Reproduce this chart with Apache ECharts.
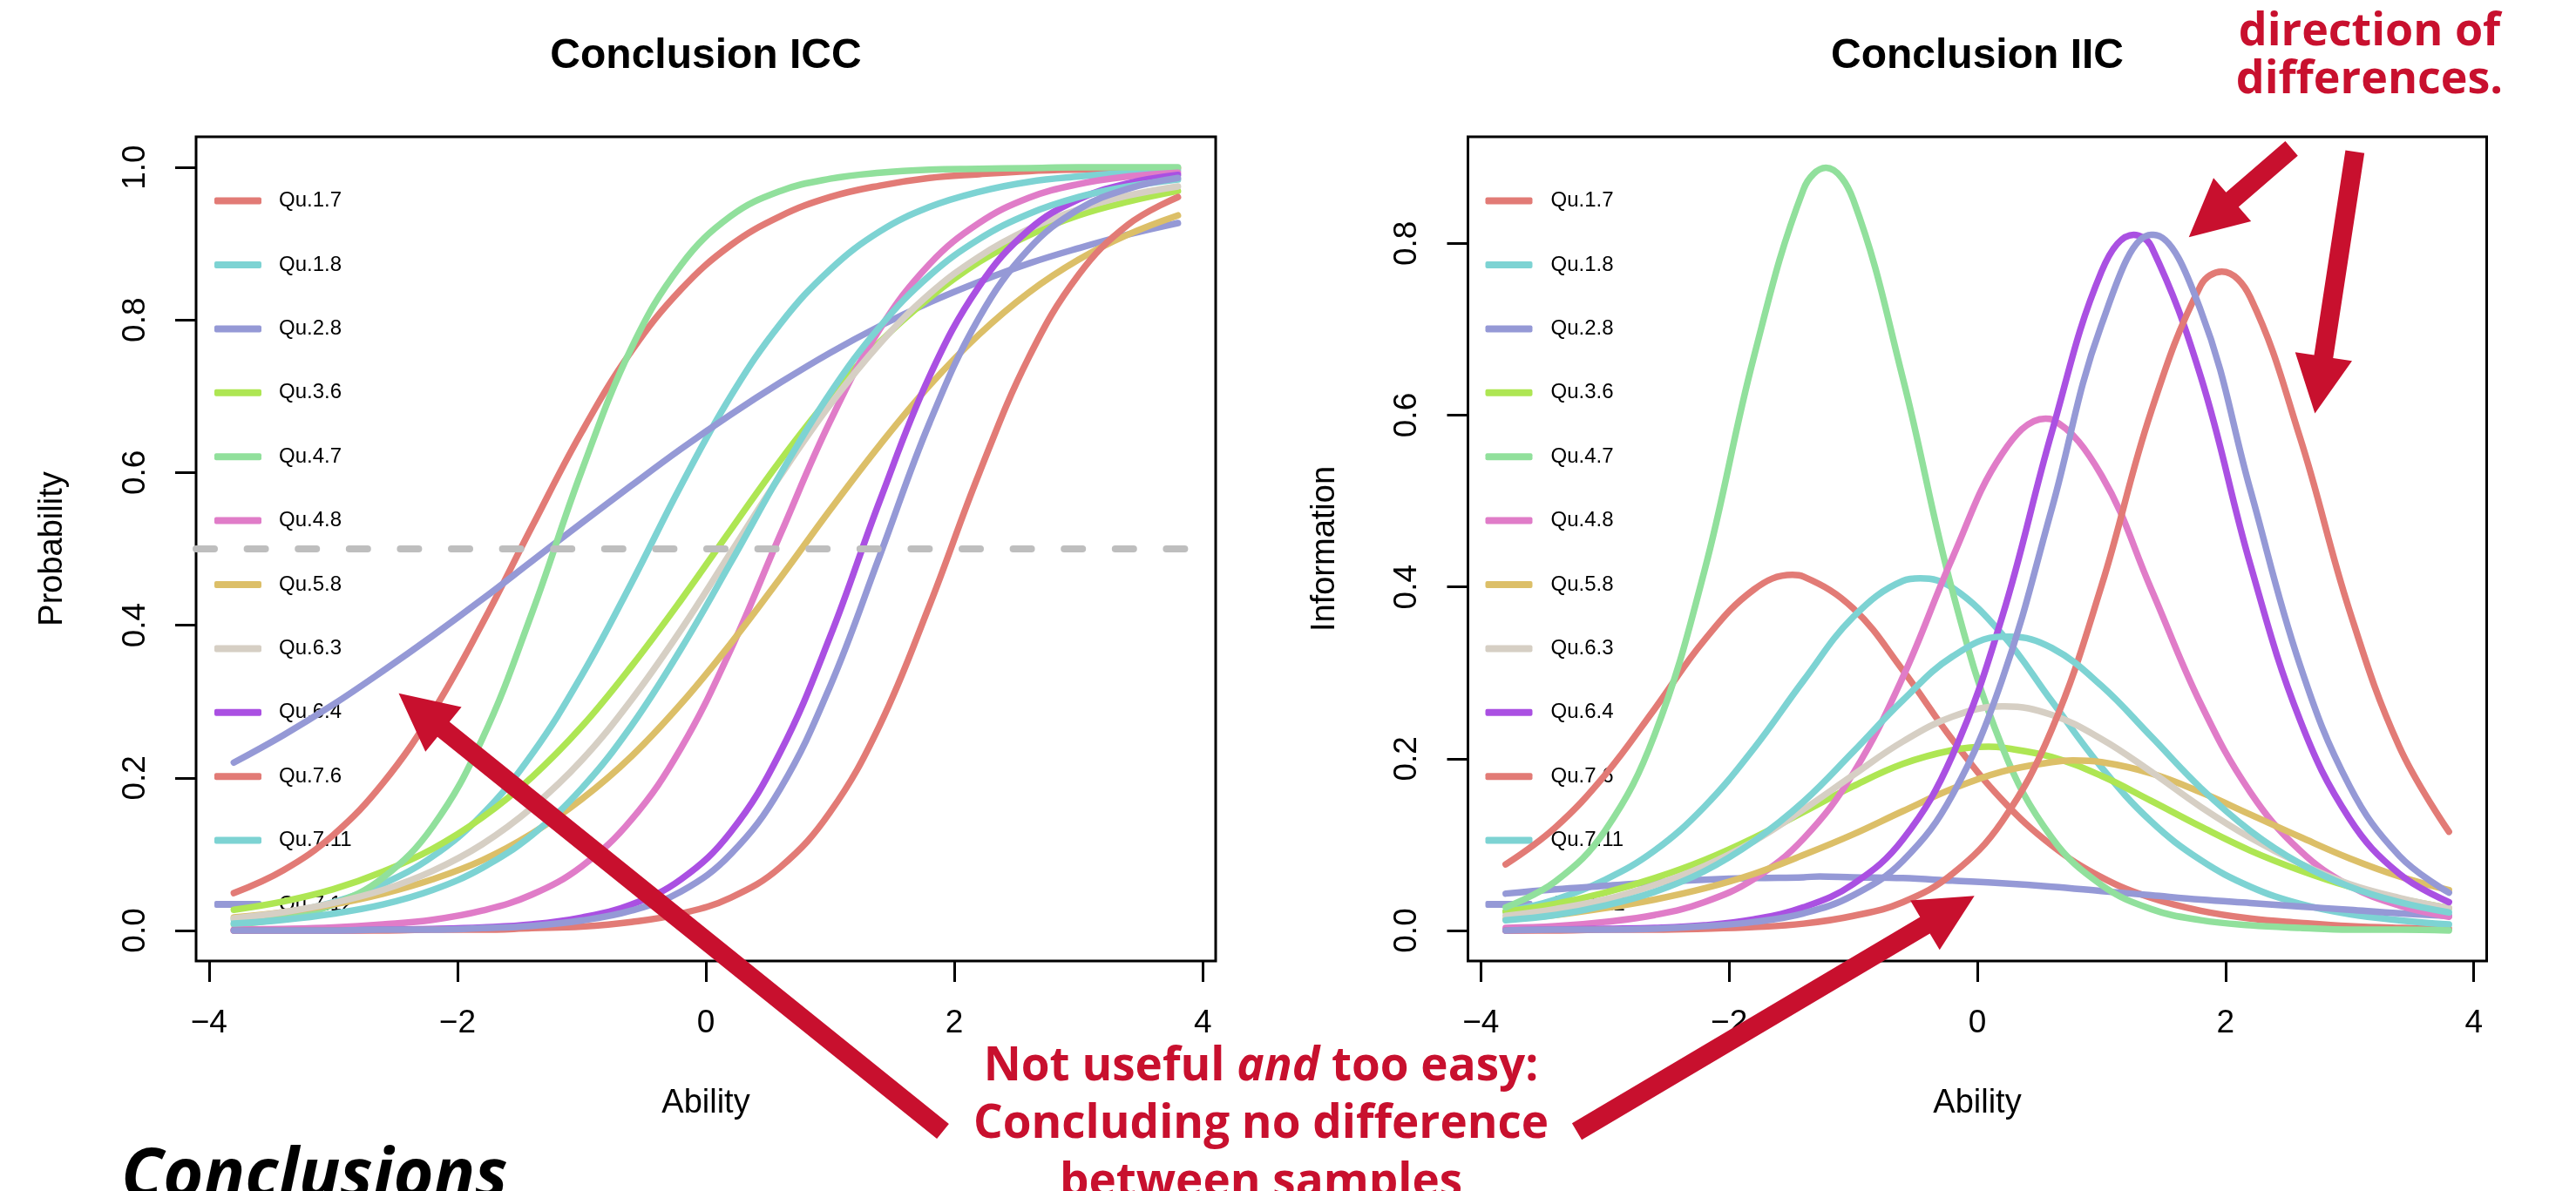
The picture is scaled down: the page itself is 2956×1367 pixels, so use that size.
<!DOCTYPE html>
<html>
<head>
<meta charset="utf-8">
<script src="https://cdn.jsdelivr.net/npm/echarts@6/dist/echarts.min.js"></script>
<style>
html,body{margin:0;padding:0;background:#ffffff;}
#c{width:2956px;height:1367px;}
</style>
</head>
<body>
<div id="c"></div>
<script>
// ---------------- DATA ----------------
const itemNames = ['Qu.1.7','Qu.1.8','Qu.2.8','Qu.3.6','Qu.4.7','Qu.4.8','Qu.5.8','Qu.6.3','Qu.6.4','Qu.7.6','Qu.7.11','Qu.7.12'];
const theta = [-3.8,-3.4,-3.0,-2.6,-2.2,-1.8,-1.4,-1.0,-0.6,-0.2,0.2,0.6,1.0,1.4,1.8,2.2,2.6,3.0,3.4,3.8];

// Item characteristic curves (probability)
const icc_1_7  = [0.049,0.079,0.125,0.193,0.286,0.402,0.529,0.653,0.759,0.840,0.898,0.936,0.961,0.976,0.986,0.991,0.995,0.997,0.998,0.999];
const icc_1_8  = [0.014,0.023,0.037,0.061,0.097,0.152,0.231,0.334,0.455,0.583,0.700,0.795,0.866,0.916,0.948,0.968,0.981,0.988,0.993,0.996];
const icc_2_8  = [0.220,0.256,0.296,0.340,0.386,0.434,0.484,0.534,0.583,0.631,0.676,0.718,0.757,0.792,0.823,0.850,0.874,0.894,0.912,0.927];
const icc_3_6  = [0.027,0.038,0.054,0.077,0.107,0.148,0.201,0.267,0.346,0.433,0.525,0.616,0.699,0.771,0.829,0.876,0.911,0.937,0.955,0.969];
const icc_4_7  = [0.008,0.016,0.034,0.069,0.136,0.251,0.416,0.602,0.763,0.872,0.936,0.969,0.985,0.993,0.997,0.998,0.999,1.000,1.000,1.000];
const icc_4_8  = [0.001,0.002,0.004,0.008,0.014,0.026,0.047,0.084,0.145,0.239,0.368,0.519,0.667,0.788,0.873,0.927,0.960,0.978,0.988,0.993];
const icc_5_8  = [0.017,0.024,0.034,0.048,0.067,0.092,0.127,0.172,0.228,0.297,0.376,0.462,0.551,0.636,0.714,0.781,0.836,0.879,0.912,0.937];
const icc_6_3  = [0.016,0.024,0.036,0.053,0.078,0.113,0.161,0.223,0.302,0.394,0.495,0.596,0.689,0.769,0.834,0.883,0.919,0.945,0.963,0.975];
const icc_6_4  = [0.000,0.000,0.000,0.001,0.002,0.004,0.008,0.017,0.034,0.067,0.129,0.234,0.385,0.563,0.726,0.844,0.918,0.958,0.979,0.990];
const icc_7_6  = [0.000,0.000,0.000,0.000,0.001,0.001,0.003,0.005,0.011,0.022,0.043,0.083,0.155,0.269,0.426,0.599,0.751,0.859,0.925,0.961];
const icc_7_11 = [0.009,0.014,0.022,0.034,0.053,0.082,0.125,0.186,0.268,0.369,0.482,0.598,0.704,0.791,0.858,0.906,0.939,0.961,0.975,0.984];
const icc_7_12 = [0.000,0.000,0.000,0.001,0.001,0.003,0.006,0.013,0.026,0.051,0.100,0.186,0.320,0.491,0.665,0.803,0.893,0.945,0.972,0.986];

// Item information curves
const iic_1_7  = [0.077,0.120,0.181,0.258,0.338,0.397,0.412,0.375,0.303,0.222,0.152,0.099,0.062,0.038,0.023,0.014,0.009,0.005,0.003,0.002];
const iic_1_8  = [0.022,0.036,0.059,0.093,0.144,0.212,0.291,0.365,0.407,0.399,0.345,0.267,0.190,0.127,0.082,0.051,0.031,0.019,0.012,0.007];
const iic_2_8  = [0.043,0.048,0.052,0.056,0.059,0.061,0.062,0.062,0.061,0.058,0.055,0.051,0.046,0.041,0.036,0.032,0.028,0.024,0.020,0.017];
const iic_3_6  = [0.022,0.031,0.044,0.061,0.082,0.108,0.138,0.168,0.194,0.210,0.213,0.202,0.180,0.151,0.121,0.093,0.070,0.051,0.037,0.026];
const iic_4_7  = [0.027,0.057,0.116,0.228,0.418,0.668,0.863,0.851,0.643,0.395,0.214,0.108,0.053,0.025,0.012,0.006,0.003,0.001,0.001,0.000];
const iic_4_8  = [0.003,0.005,0.010,0.018,0.033,0.060,0.107,0.183,0.295,0.434,0.555,0.595,0.530,0.398,0.264,0.161,0.093,0.052,0.029,0.016];
const iic_5_8  = [0.013,0.018,0.026,0.036,0.049,0.066,0.088,0.112,0.139,0.165,0.185,0.196,0.196,0.183,0.161,0.135,0.109,0.084,0.063,0.047];
const iic_6_3  = [0.017,0.025,0.036,0.053,0.075,0.104,0.141,0.181,0.220,0.249,0.261,0.251,0.223,0.185,0.144,0.108,0.078,0.054,0.038,0.026];
const iic_6_4  = [0.000,0.001,0.002,0.003,0.006,0.013,0.027,0.054,0.106,0.204,0.365,0.580,0.767,0.797,0.645,0.426,0.245,0.130,0.066,0.033];
const iic_7_6  = [0.000,0.000,0.001,0.001,0.002,0.004,0.008,0.017,0.033,0.066,0.127,0.234,0.401,0.604,0.751,0.737,0.574,0.372,0.214,0.115];
const iic_7_11 = [0.012,0.018,0.029,0.045,0.069,0.104,0.150,0.208,0.268,0.319,0.342,0.329,0.285,0.226,0.166,0.116,0.078,0.051,0.033,0.021];
const iic_7_12 = [0.000,0.001,0.001,0.002,0.005,0.010,0.020,0.041,0.081,0.158,0.292,0.491,0.705,0.810,0.722,0.513,0.309,0.168,0.087,0.044];

// Peak of each information curve (ability, information)
const peakTheta = [-1.49,-0.46,-1.27,0.09,-1.22,0.55,0.77,0.22,1.26,1.97,0.26,1.42];
const peakInfo  = [0.414,0.410,0.063,0.214,0.888,0.596,0.198,0.261,0.810,0.767,0.342,0.810];

// Reference level and axis ticks
const refProbability = 0.5;
const xTicks = [-4,-2,0,2,4];
const yTicksICC = [0,0.2,0.4,0.6,0.8,1.0];
const yTicksIIC = [0,0.2,0.4,0.6,0.8];

// ---------------- STYLE ----------------
const itemColors = ['#E27B76','#7DD3D3','#9599D6','#AEE653','#91E09C','#E07CC8','#DCBF68','#D6CFC4','#AA50E2','#E27B76','#7DD3D3','#9599D6'];
const FONT = '"Liberation Sans", Arial, Helvetica, sans-serif';
const ANNOT_FONT = '"Open Sans", "Noto Sans", sans-serif';
const RED = '#C8102E';
const X_MIN = -4.104, X_MAX = 4.104;
const LINE_W = 7.5;

const iccValues = [icc_1_7,icc_1_8,icc_2_8,icc_3_6,icc_4_7,icc_4_8,icc_5_8,icc_6_3,icc_6_4,icc_7_6,icc_7_11,icc_7_12];
const iicValues = [iic_1_7,iic_1_8,iic_2_8,iic_3_6,iic_4_7,iic_4_8,iic_5_8,iic_6_3,iic_6_4,iic_7_6,iic_7_11,iic_7_12];

const series = [];
itemNames.forEach((name, k) => {
  series.push({
    name: name, type: 'line', xAxisIndex: 0, yAxisIndex: 0,
    data: theta.map((t, i) => [t, iccValues[k][i]]),
    smooth: 0.4, symbol: 'none', showSymbol: false,
    lineStyle: { color: itemColors[k], width: LINE_W, cap: 'round', join: 'round' },
    itemStyle: { color: itemColors[k] },
    emphasis: { disabled: true }, animation: false
  });
});
series.push({
  name: 'ref', type: 'line', xAxisIndex: 0, yAxisIndex: 0,
  data: [[X_MIN, refProbability], [X_MAX, refProbability]],
  symbol: 'none', showSymbol: false,
  lineStyle: { color: '#BEBEBE', width: 8, type: [21, 37.6], cap: 'round' },
  emphasis: { disabled: true }, animation: false
});
itemNames.forEach((name, k) => {
  const pts = theta.map((t, i) => [t, iicValues[k][i]]);
  pts.push([peakTheta[k], peakInfo[k]]);
  pts.sort((a, b) => a[0] - b[0]);
  series.push({
    name: name, type: 'line', xAxisIndex: 1, yAxisIndex: 1,
    data: pts,
    smooth: 0.4, symbol: 'none', showSymbol: false,
    lineStyle: { color: itemColors[k], width: LINE_W, cap: 'round', join: 'round' },
    itemStyle: { color: itemColors[k] },
    emphasis: { disabled: true }, animation: false
  });
});

function xAxisCfg(gi) {
  return {
    gridIndex: gi, type: 'value', min: X_MIN, max: X_MAX, position: 'bottom',
    axisLine: { show: false, onZero: false }, splitLine: { show: false },
    axisTick: { show: true, inside: false, length: 24, customValues: xTicks, lineStyle: { color: '#000', width: 3 } },
    axisLabel: { customValues: xTicks, margin: 53, fontSize: 37, color: '#000', fontFamily: FONT,
      formatter: v => (v < 0 ? '\u2212' + Math.abs(v) : String(v)) },
    name: 'Ability', nameLocation: 'middle', nameGap: 145,
    nameTextStyle: { fontSize: 38, color: '#000', fontFamily: FONT }
  };
}
function yAxisCfg(gi, min, max, ticks, title) {
  return {
    gridIndex: gi, type: 'value', min: min, max: max, position: 'left',
    axisLine: { show: false, onZero: false }, splitLine: { show: false },
    axisTick: { show: true, inside: false, length: 24, customValues: ticks, lineStyle: { color: '#000', width: 3 } },
    axisLabel: { customValues: ticks, rotate: 90, margin: 51, fontSize: 37, color: '#000', fontFamily: FONT,
      formatter: v => v.toFixed(1) },
    name: title, nameLocation: 'middle', nameGap: 145, nameRotate: 90,
    nameTextStyle: { fontSize: 38, color: '#000', fontFamily: FONT }
  };
}
function legendCfg(left, pad) {
  return {
    orient: 'vertical', left: left, top: 218.6, padding: 0,
    itemWidth: 54, itemHeight: 8, itemGap: 49.4, icon: 'roundRect',
    selectedMode: false, z: 1, data: itemNames,
    textStyle: { fontFamily: FONT, fontSize: 24, color: '#000', lineHeight: 24, padding: [0, 0, 0, pad] }
  };
}

function arrowShape(tail, tip, shaft, headLen, headHalf) {
  const dx = tip[0] - tail[0], dy = tip[1] - tail[1];
  const L = Math.sqrt(dx * dx + dy * dy);
  const ux = dx / L, uy = dy / L, nx = -uy, ny = ux;
  const bx = tip[0] - ux * headLen, by = tip[1] - uy * headLen;
  const h = shaft / 2;
  return [
    [tail[0] + nx * h, tail[1] + ny * h],
    [bx + nx * h, by + ny * h],
    [bx + nx * headHalf, by + ny * headHalf],
    [tip[0], tip[1]],
    [bx - nx * headHalf, by - ny * headHalf],
    [bx - nx * h, by - ny * h],
    [tail[0] - nx * h, tail[1] - ny * h]
  ];
}
const arrows = [
  { tail: [1082, 1298.5], tip: [457.5, 795.7] },
  { tail: [1809.5, 1298.7], tip: [2265.7, 1028.3] },
  { tail: [2629.6, 170.4], tip: [2511.7, 272.3] },
  { tail: [2702.3, 174.1], tip: [2656.4, 474.5] }
];

const graphics = [];
// Panel titles
graphics.push({ type: 'text', x: 810, y: 65, z: 50, style: { text: 'Conclusion ICC', fill: '#000', fontFamily: FONT, fontWeight: 'bold', fontSize: 48, align: 'center', verticalAlign: 'middle' } });
graphics.push({ type: 'text', x: 2269, y: 65, z: 50, style: { text: 'Conclusion IIC', fill: '#000', fontFamily: FONT, fontWeight: 'bold', fontSize: 48, align: 'center', verticalAlign: 'middle' } });
// Arrows
arrows.forEach(a => {
  graphics.push({ type: 'polygon', z: 100, shape: { points: arrowShape(a.tail, a.tip, 22, 66, 33) }, style: { fill: RED } });
});
// Annotation texts
graphics.push({ type: 'text', x: 2719, y: 37, z: 101, style: { text: 'direction of', fill: RED, fontFamily: ANNOT_FONT, fontWeight: 'bold', fontSize: 52, align: 'center', verticalAlign: 'middle' } });
graphics.push({ type: 'text', x: 2719, y: 92.5, z: 101, style: { text: 'differences.', fill: RED, fontFamily: ANNOT_FONT, fontWeight: 'bold', fontSize: 52, align: 'center', verticalAlign: 'middle' } });
graphics.push({ type: 'text', x: 1447, y: 1224.5, z: 101, style: {
  text: '{n|Not useful }{i|and}{n| too easy:}', align: 'center', verticalAlign: 'middle',
  rich: {
    n: { fill: RED, fontFamily: ANNOT_FONT, fontWeight: 'bold', fontSize: 53, lineHeight: 66 },
    i: { fill: RED, fontFamily: ANNOT_FONT, fontWeight: 'bold', fontStyle: 'italic', fontSize: 53, lineHeight: 66 }
  } } });
graphics.push({ type: 'text', x: 1447, y: 1291, z: 101, style: { text: 'Concluding no difference', fill: RED, fontFamily: ANNOT_FONT, fontWeight: 'bold', fontSize: 53, align: 'center', verticalAlign: 'middle' } });
graphics.push({ type: 'text', x: 1447, y: 1357.7, z: 101, style: { text: 'between samples', fill: RED, fontFamily: ANNOT_FONT, fontWeight: 'bold', fontSize: 53, align: 'center', verticalAlign: 'middle' } });
graphics.push({ type: 'text', x: 139, y: 1351, z: 101, style: { text: 'Conclusions', fill: '#000', fontFamily: ANNOT_FONT, fontWeight: 'bold', fontStyle: 'italic', fontSize: 79, align: 'left', verticalAlign: 'middle' } });

const option = {
  backgroundColor: '#ffffff',
  animation: false,
  grid: [
    { left: 225, top: 157, width: 1170, height: 946, show: true, borderColor: '#000', borderWidth: 3, backgroundColor: 'transparent', containLabel: false },
    { left: 1684.5, top: 157, width: 1169, height: 946, show: true, borderColor: '#000', borderWidth: 3, backgroundColor: 'transparent', containLabel: false }
  ],
  xAxis: [xAxisCfg(0), xAxisCfg(1)],
  yAxis: [
    yAxisCfg(0, -0.04, 1.04, yTicksICC, 'Probability'),
    yAxisCfg(1, -0.0355, 0.9241, yTicksIIC, 'Information')
  ],
  legend: [legendCfg(246, 15), legendCfg(1704.5, 16)],
  tooltip: { show: false },
  series: series,
  graphic: graphics
};

const chart = echarts.init(document.getElementById('c'), null, { renderer: 'canvas', width: 2956, height: 1367 });
chart.setOption(option);
</script>
</body>
</html>
